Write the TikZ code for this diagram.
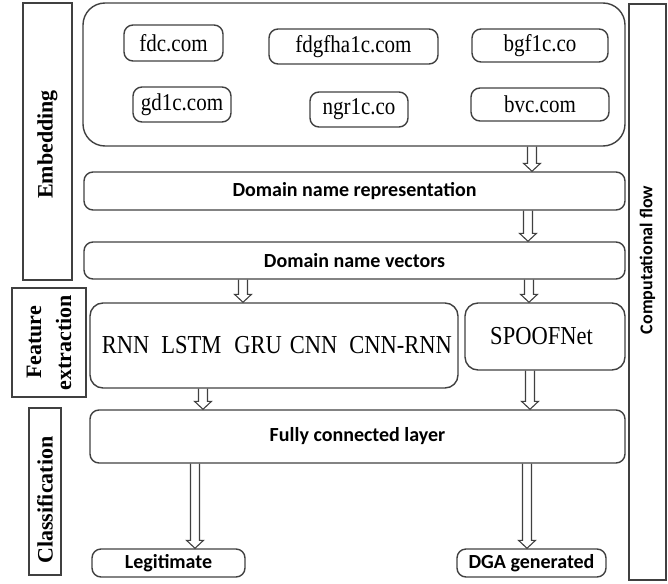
\documentclass[tikz,border=0pt]{standalone}
\usepackage{fontspec}
\usepackage{graphicx}
\setmainfont{Liberation Serif}
\newfontfamily\stagefont{Carlito}
\usetikzlibrary{calc}
\definecolor{linegray}{HTML}{404040}
% serif labels are set slightly taller than their natural shape
\newcommand{\tallserif}[1]{\scalebox{1}[1.15]{#1}}

\begin{document}
\begin{tikzpicture}[x=1pt,y=-1pt,
  box/.style={draw=linegray, line width=1.4pt, rounded corners=9pt, inner sep=0pt, align=center},
  dombox/.style={box, font=\fontsize{21}{24}\selectfont},
  netbox/.style={box, rounded corners=13pt, font=\fontsize{22.5}{26}\selectfont},
  stagebox/.style={box, font=\stagefont\bfseries\fontsize{20}{24}\selectfont},
  sidebox/.style={draw=linegray, line width=1.4pt, inner sep=0pt, rotate=90, align=center,
    font=\bfseries\fontsize{22}{30}\selectfont},
  hollow/.style={draw=linegray, line width=1.1pt, line join=miter, to path={
    let \p1=(\tikztostart), \p2=(\tikztotarget) in
    (\x1-4.5pt,\y1) -- (\x1-4.5pt,\y2+8pt) -- (\x1-8.5pt,\y2+8pt) -- (\x1,\y2)
    -- (\x1+8.5pt,\y2+8pt) -- (\x1+4.5pt,\y2+8pt) -- (\x1+4.5pt,\y1)}}
]
\useasboundingbox (0,0) rectangle (668,583);

% embedding block with the sample domain names
\node[box, rounded corners=22pt, minimum width=542pt, minimum height=143pt] (top) at (354,74.5) {};
\node[dombox, minimum width=99pt,  minimum height=36pt] (fdc) at (173.5,43)   {\tallserif{fdc.com}};
\node[dombox, minimum width=169pt, minimum height=35pt] (fdg) at (353.5,46.5) {\tallserif{fdgfha1c.com}};
\node[dombox, minimum width=136pt, minimum height=33pt] (bgf) at (540,45.5)   {\tallserif{bgf1c.co}};
\node[dombox, minimum width=98pt,  minimum height=35pt] (gd)  at (182,104.5)  {\tallserif{gd1c.com}};
\node[dombox, minimum width=98pt,  minimum height=35pt] (ngr) at (359,109.5)  {\tallserif{ngr1c.co}};
\node[dombox, minimum width=138pt, minimum height=33pt] (bvc) at (540,104.5)  {\tallserif{bvc.com}};

% processing stages
\node[stagebox, minimum width=541pt, minimum height=38pt] (dnr) at (354.5,191) {Domain name representation};
\node[stagebox, minimum width=541pt, minimum height=37pt] (dnv) at (354.5,260.5) {Domain name vectors};
\node[netbox, minimum width=368pt, minimum height=85pt] (rnn) at (274,345.5)
  {\tallserif{RNN\hspace{12pt}LSTM\hspace{13pt}GRU\hspace{8pt}CNN\hspace{12pt}CNN-RNN}\hspace{-6pt}};
\node[netbox, minimum width=160pt, minimum height=67pt] (spoof) at (545,336.5) {\tallserif{SPOOFNet}\hspace{7pt}};
\node[stagebox, minimum width=535pt, minimum height=53pt] (fc) at (357.5,436.5) {\raisebox{-4pt}{Fully connected layer}};
\node[stagebox, minimum width=153pt, minimum height=28pt] (legit) at (168.5,563) {Legitimate};
\node[stagebox, minimum width=149pt, minimum height=28pt] (dga) at (531.5,563) {DGA generated};

% side labels
\node[sidebox, minimum width=277pt, minimum height=49pt] (emb) at (47.5,141.5) {\raisebox{3pt}{Embedding}\hspace*{6pt}};
\node[sidebox, minimum width=109pt, minimum height=74pt] (feat) at (49,342.5) {Feature\\extraction};
\node[sidebox, minimum width=167pt, minimum height=32pt] (cls) at (45,491.5) {Classification\hspace*{17pt}};
\node[sidebox, font=\stagefont\bfseries\fontsize{18}{22}\selectfont,
      minimum width=576pt, minimum height=37pt] (comp) at (647.5,292) {\hspace*{64pt}Computational flow};

% hollow flow arrows
\coordinate (s1) at ([xshift=178pt]top.south);
\coordinate (s2) at ([xshift=173.5pt]dnr.south);
\coordinate (s3) at ([xshift=-111.5pt]dnv.south);
\coordinate (s4) at ([xshift=174.5pt]dnv.south);
\coordinate (s5) at ([xshift=-71pt]rnn.south);
\coordinate (s6) at ([xshift=-15pt]spoof.south);
\coordinate (s7) at ([xshift=-162.5pt]fc.south);
\coordinate (s8) at ([xshift=169.5pt]fc.south);
\draw[hollow] (s1) to (s1 |- dnr.north);
\draw[hollow] (s2) to (s2 |- dnv.north);
\draw[hollow] (s3) to (s3 |- rnn.north);
\draw[hollow] (s4) to (s4 |- spoof.north);
\draw[hollow] (s5) to (s5 |- fc.north);
\draw[hollow] (s6) to (s6 |- fc.north);
\draw[hollow] (s7) to (s7 |- legit.north);
\draw[hollow] (s8) to (s8 |- dga.north);
\end{tikzpicture}
\end{document}
